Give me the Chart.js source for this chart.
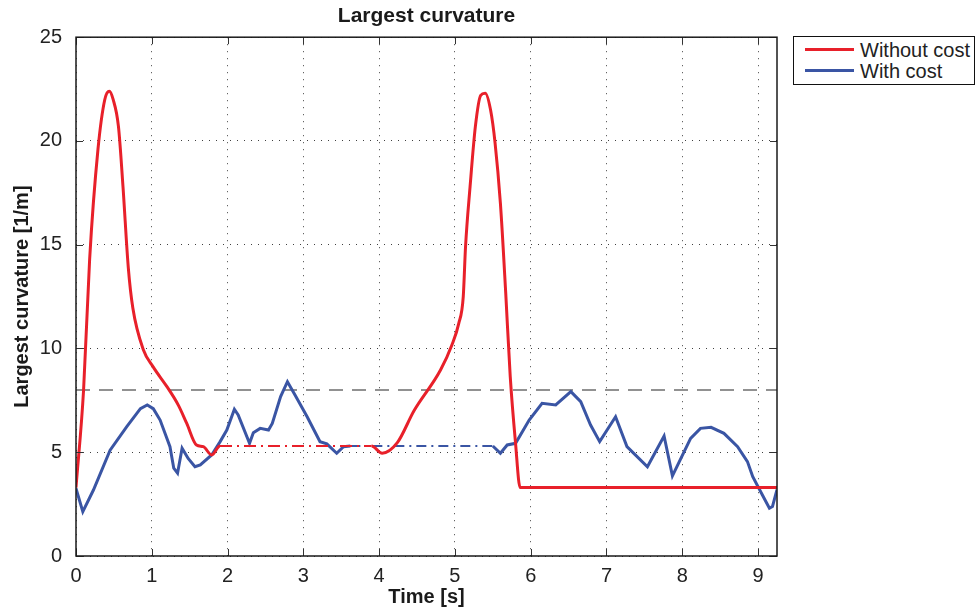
<!DOCTYPE html>
<html>
<head>
<meta charset="utf-8">
<script src="https://cdn.jsdelivr.net/npm/chart.js@4/dist/chart.umd.min.js"></script>
<style>
  html, body { margin: 0; padding: 0; background: #fff; }
  #wrap { position: relative; width: 977px; height: 609px; }
  #legend {
    position: absolute; left: 793px; top: 36px; width: 180px; height: 47px;
    border: 1.5px solid #111; background: #fff;
    font-family: "Liberation Sans", Arial, sans-serif; font-size: 20px; color: #222;
  }
  .item { position: absolute; left: 0; height: 22px; line-height: 22px; white-space: nowrap; }
  .item .sw { position: absolute; left: 11px; top: 9px; width: 49px; height: 3px; }
  .item .lb { position: absolute; left: 66px; top: 0; }
</style>
</head>
<body>
<div id="wrap">
  <canvas id="c" width="977" height="609"></canvas>
  <div id="legend">
    <div class="item" style="top:2px"><span class="sw" style="background:#e8202a"></span><span class="lb">Without cost</span></div>
    <div class="item" style="top:23px"><span class="sw" style="background:#3a55a4"></span><span class="lb">With cost</span></div>
  </div>
</div>
<script>
// ---- data ----
const chartTitle = "Largest curvature";
const xAxisLabel = "Time [s]";
const yAxisLabel = "Largest curvature [1/m]";
const seriesNames = ["Without cost", "With cost"];

const redTime = [0, 0.1, 0.18, 0.29, 0.38, 0.44, 0.49, 0.56, 0.62, 0.69, 0.75, 0.89, 1.02, 1.2, 1.35, 1.46, 1.59, 1.68, 1.79, 1.9,
                 3.9, 4.04, 4.24, 4.46, 4.81, 4.96, 5.05, 5.11, 5.14, 5.2, 5.27, 5.34, 5.4, 5.47, 5.53, 5.6, 5.67, 5.73, 5.8, 5.86, 9.25];
const redCurv = [3.3, 8.0, 14.3, 19.6, 22.0, 22.4, 22.0, 20.7, 17.8, 13.9, 11.95, 9.93, 9.1, 8.16, 7.27, 6.4, 5.35, 5.27, 4.87, 5.3,
                 5.3, 4.95, 5.46, 7.0, 8.96, 10.17, 11.2, 12.5, 14.9, 17.8, 20.7, 22.2, 22.3, 21.5, 19.9, 17.0, 12.7, 8.64, 5.43, 3.3, 3.3];
const redGap = [1.9, 3.9];

const blueTime = [0, 0.09, 0.23, 0.45, 0.67, 0.85, 0.94, 1.02, 1.11, 1.24, 1.29, 1.34, 1.4, 1.48, 1.57, 1.64, 1.79, 1.9, 1.99, 2.09,
                  2.14, 2.29, 2.34, 2.43, 2.54, 2.59, 2.7, 2.79, 2.89, 3.05, 3.22, 3.31, 3.44, 3.53, 3.62,
                  5.5, 5.6, 5.69, 5.8, 5.98, 6.15, 6.33, 6.53, 6.66, 6.79, 6.91, 7.12, 7.27, 7.54, 7.76, 7.87, 8.11, 8.24, 8.38,
                  8.55, 8.73, 8.86, 8.93, 9.08, 9.15, 9.19, 9.25];
const blueCurv = [3.26, 2.14, 3.18, 5.1, 6.23, 7.1, 7.28, 7.1, 6.55, 5.27, 4.23, 3.99, 5.19, 4.7, 4.3, 4.39, 4.87, 5.5, 6.07, 7.07,
                  6.8, 5.43, 5.94, 6.15, 6.07, 6.39, 7.68, 8.4, 7.76, 6.71, 5.51, 5.4, 4.95, 5.27, 5.3,
                  5.3, 4.95, 5.35, 5.43, 6.55, 7.36, 7.28, 7.92, 7.44, 6.31, 5.51, 6.71, 5.27, 4.3, 5.78, 3.86, 5.67, 6.15, 6.2,
                  5.91, 5.27, 4.55, 3.82, 2.78, 2.3, 2.38, 3.2];
const blueGap = [3.62, 5.5];

const thresholdValue = 8;
const xRange = [0, 9.25];
const yRange = [0, 25];
const xTickStep = 1;
const yTickStep = 5;

// ---- styling ----
const RED = "#e8202a", BLUE = "#3a55a4";
const FONT = "'Liberation Sans', Arial, Helvetica, sans-serif";

function pts(xs, ys) { return xs.map((x, i) => ({ x: x, y: ys[i] })); }
function inGap(ctx, gap) {
  return ctx.p0.parsed.x >= gap[0] - 1e-9 && ctx.p1.parsed.x <= gap[1] + 1e-9;
}

const frameTicks = {
  id: "frameTicks",
  afterDraw(chart) {
    const { ctx, chartArea: a } = chart;
    const xs = chart.scales.x, ys = chart.scales.y;
    ctx.save();
    ctx.strokeStyle = "#333";
    ctx.lineWidth = 1;
    ctx.beginPath();
    xs.ticks.forEach(t => {
      const p = Math.round(xs.getPixelForValue(t.value)) + 0.5;
      ctx.moveTo(p, a.bottom); ctx.lineTo(p, a.bottom - 7);
      ctx.moveTo(p, a.top); ctx.lineTo(p, a.top + 7);
    });
    ys.ticks.forEach(t => {
      const p = Math.round(ys.getPixelForValue(t.value)) + 0.5;
      ctx.moveTo(a.left, p); ctx.lineTo(a.left + 7, p);
      ctx.moveTo(a.right, p); ctx.lineTo(a.right - 7, p);
    });
    ctx.stroke();
    ctx.strokeStyle = "#1a1a1a";
    ctx.lineWidth = 1.5;
    ctx.strokeRect(a.left, a.top, a.right - a.left, a.bottom - a.top);
    ctx.restore();
  }
};

new Chart(document.getElementById("c"), {
  type: "line",
  data: {
    datasets: [
      {
        label: seriesNames[0],
        data: pts(redTime, redCurv),
        borderColor: RED, borderWidth: 3, pointRadius: 0,
        cubicInterpolationMode: "monotone",
        segment: {
          borderDash: ctx => inGap(ctx, redGap) ? [12, 5, 2, 5] : undefined,
          borderWidth: ctx => inGap(ctx, redGap) ? 2 : undefined
        }
      },
      {
        label: seriesNames[1],
        data: pts(blueTime, blueCurv),
        borderColor: BLUE, borderWidth: 3, pointRadius: 0,
        tension: 0,
        segment: {
          borderDash: ctx => inGap(ctx, blueGap) ? [10, 5, 2, 5] : undefined,
          borderWidth: ctx => inGap(ctx, blueGap) ? 2 : undefined
        }
      },
      {
        label: "threshold",
        data: [{ x: xRange[0], y: thresholdValue }, { x: xRange[1], y: thresholdValue }],
        borderColor: "#6e6e6e", borderWidth: 1.5, borderDash: [14, 9], pointRadius: 0
      }
    ]
  },
  options: {
    responsive: false,
    animation: false,
    layout: { padding: { left: 0, right: 200, top: 0, bottom: 0 } },
    plugins: {
      legend: { display: false },
      tooltip: { enabled: false },
      title: {
        display: true, text: chartTitle, color: "#1a1a1a", fullSize: false,
        font: { family: FONT, size: 21, weight: "bold" },
        padding: { top: 4, bottom: 8 }
      }
    },
    scales: {
      x: {
        type: "linear", min: xRange[0], max: xRange[1],
        ticks: { stepSize: xTickStep, includeBounds: false, color: "#222", padding: 8,
                 font: { family: FONT, size: 20 }, maxRotation: 0 },
        grid: { color: "rgba(0,0,0,0.75)", lineWidth: 1, drawTicks: false },
        border: { display: false, dash: [1, 6] },
        title: { display: true, text: xAxisLabel, color: "#1a1a1a",
                 font: { family: FONT, size: 20, weight: "bold" }, padding: { top: 0, bottom: 0 } },
        afterFit: s => { s.height = 53; }
      },
      y: {
        type: "linear", min: yRange[0], max: yRange[1],
        ticks: { stepSize: yTickStep, color: "#222", padding: 14,
                 font: { family: FONT, size: 20 } },
        grid: { color: "rgba(0,0,0,0.75)", lineWidth: 1, drawTicks: false },
        border: { display: false, dash: [1, 6] },
        title: { display: true, text: yAxisLabel, color: "#1a1a1a",
                 font: { family: FONT, size: 20, weight: "bold" }, padding: { top: 10, bottom: 0 } },
        afterFit: s => { s.width = 76; }
      }
    }
  },
  plugins: [frameTicks]
});
</script>
</body>
</html>
